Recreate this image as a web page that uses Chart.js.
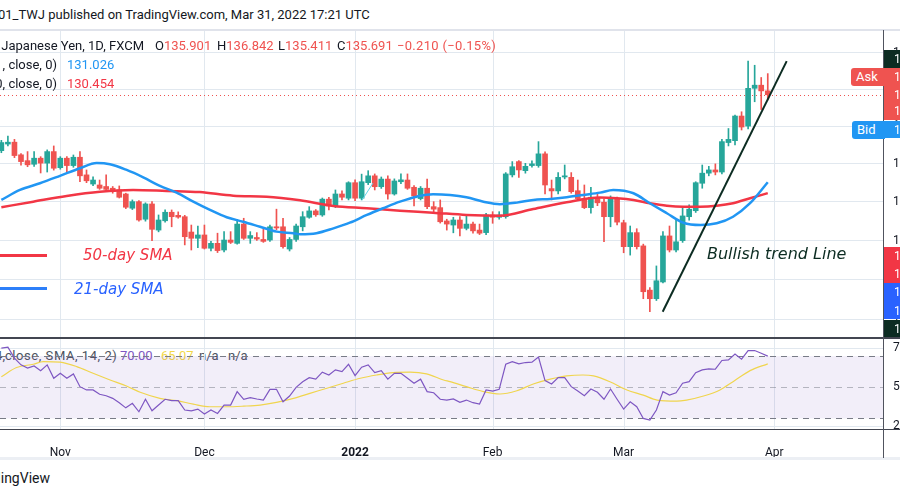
<!DOCTYPE html>
<html>
<head>
<meta charset="utf-8">
<script src="https://cdn.jsdelivr.net/npm/chart.js@4.4.1/dist/chart.umd.min.js"></script>
<style>
  html, body { margin:0; padding:0; background:#fff; }
  #stage { position:relative; width:900px; height:497px; overflow:hidden; background:#fff;
           font-family: Roboto, "Noto Sans", sans-serif; color:#131722; }
  .t { position:absolute; white-space:nowrap; font-size:13px; line-height:16px; z-index:4; }
  canvas { position:absolute; left:0; z-index:2; }
  #priceCanvas { top:30px; }
  #rsiCanvas { top:338px; }
  .ln { position:absolute; z-index:4; }
  .box { position:absolute; left:884px; width:60px; overflow:hidden; z-index:6; }
  .box span { position:absolute; left:10px; color:#fff; font-size:12px; line-height:16px; }
  .tag { position:absolute; color:#fff; font-size:13px; line-height:18px; height:18px;
         border-radius:3px 0 0 3px; z-index:6; padding-left:5px; box-sizing:border-box; }
  .note { position:absolute; white-space:nowrap; font-family:"DejaVu Sans", sans-serif;
          font-style:italic; font-size:15px; line-height:18px; z-index:4; }
</style>
</head>
<body>
<div id="stage">
  <div class="t" style="left:-2px;top:7px;">01_TWJ published on TradingView.com, Mar 31, 2022 17:21 UTC</div>
  <div class="ln" style="left:0;top:29px;width:900px;height:2px;background:#e0e3eb;"></div>

  <canvas id="priceCanvas" width="940" height="308"></canvas>
  <canvas id="rsiCanvas" width="940" height="120"></canvas>

  <!-- price legend -->
  <div class="t" style="right:756px;top:38px;">Euro / Japanese Yen, 1D, FXCM</div>
  <div class="t" style="left:155px;top:38px;">O<span style="color:#ef5350">135.901</span></div>
  <div class="t" style="left:217px;top:38px;">H<span style="color:#ef5350">136.842</span></div>
  <div class="t" style="left:278px;top:38px;">L<span style="color:#ef5350">135.411</span></div>
  <div class="t" style="left:337px;top:38px;">C<span style="color:#ef5350">135.691</span></div>
  <div class="t" style="left:397px;top:38px;color:#ef5350;letter-spacing:0.3px;">−0.210 (−0.15%)</div>
  <div class="t" style="right:843px;top:57px;">SMA (21, close, 0)</div>
  <div class="t" style="left:67px;top:57px;color:#2196f3;">131.026</div>
  <div class="t" style="right:843px;top:76px;">SMA (50, close, 0)</div>
  <div class="t" style="left:67px;top:76px;color:#f23645;">130.454</div>

  <!-- annotations -->
  <div class="ln" style="left:0;top:254px;width:47px;height:2.5px;background:#f23645;"></div>
  <div class="note" style="left:83px;top:246px;color:#f23645;">50-day SMA</div>
  <div class="ln" style="left:0;top:287px;width:47px;height:2.5px;background:#2d7ff9;"></div>
  <div class="note" style="left:74px;top:280px;color:#2962ff;">21-day SMA</div>
  <div class="note" style="left:707px;top:245px;color:#0c2c22;font-size:16px;">Bullish trend Line</div>

  <!-- RSI legend (under the pane canvas) -->
  <div class="t" style="right:895px;top:348px;z-index:1;color:#4c525e;">RSI (14, </div>
  <div class="t" style="left:5px;top:348px;z-index:1;color:#4c525e;letter-spacing:0.55px;">close, SMA, 14, 2)</div>
  <div class="t" style="left:120px;top:348px;z-index:1;color:#7e57c2;">70.00</div>
  <div class="t" style="left:161px;top:348px;z-index:1;color:#f2d84a;">65.07</div>
  <div class="t" style="left:199px;top:348px;z-index:1;color:#4c525e;">n/a</div>
  <div class="t" style="left:228px;top:348px;z-index:1;color:#4c525e;">n/a</div>

  <!-- pane borders -->
  <div class="ln" style="left:0;top:337px;width:900px;height:1.5px;background:#434651;z-index:5;"></div>
  <div class="ln" style="left:0;top:428.5px;width:900px;height:1.5px;background:#434651;z-index:5;"></div>
  <div class="ln" style="left:883px;top:30px;width:1px;height:428px;background:#50535e;z-index:5;"></div>
  <div class="ln" style="left:0;top:457px;width:900px;height:3px;background:#eceff4;"></div>
  <div class="t" style="right:850px;top:470px;font-size:14px;">TradingView</div>

  <!-- price scale labels -->
  <div class="box" style="top:49.5px;height:18.5px;background:#0c2c22;"><span style="top:1px">137.530</span></div>
  <div class="box" style="top:68px;height:52px;background:#ef5350;">
    <span style="top:0.5px">135.711</span><span style="top:18.5px">135.691</span><span style="top:35px">13:38:41</span></div>
  <div class="tag" style="left:851px;top:68px;width:34px;background:#ef5350;">Ask</div>
  <div class="box" style="top:120.5px;height:17.5px;background:#2196f3;"><span style="top:1px">135.671</span></div>
  <div class="tag" style="left:852px;top:120.5px;width:33px;background:#2196f3;">Bid</div>
  <div class="box" style="top:246.7px;height:36.6px;background:#f23645;">
    <span style="top:1px">130.454</span><span style="top:19.5px">129.600</span></div>
  <div class="box" style="top:283.3px;height:36.2px;background:#2962ff;">
    <span style="top:1px">128.900</span><span style="top:19.5px">127.950</span></div>
  <div class="box" style="top:319.5px;height:17.5px;background:#0c2c22;"><span style="top:1px">124.410</span></div>
</div>

<script>
// ---------- categories (trading sessions) ----------
const tradingDays = {
  '2021-10': [19,20,21,22,25,26,27,28,29],
  '2021-11': [1,2,3,4,5,8,9,10,11,12,15,16,17,18,19,22,23,24,25,26,29,30],
  '2021-12': [1,2,3,6,7,8,9,10,13,14,15,16,17,20,21,22,23,24,27,28,29,30,31],
  '2022-01': [3,4,5,6,7,10,11,12,13,14,17,18,19,20,21,24,25,26,27,28,31],
  '2022-02': [1,2,3,4,7,8,9,10,11,14,15,16,17,18,21,22,23,24,25,28],
  '2022-03': [1,2,3,4,7,8,9,10,11,14,15,16,17,18,21,22,23,24,25,28,29,30,31]
};
const dates = Object.entries(tradingDays).flatMap(([m, ds]) => ds.map(d => m + '-' + String(d).padStart(2, '0')));
const nextSession = '2022-04-01';

// ---------- tick labels ----------
const monthTickDates  = ['2021-11-01','2021-12-01','2022-01-03','2022-02-01','2022-03-01','2022-04-01'];
const monthTickLabels = ['Nov','Dec','2022','Feb','Mar','Apr'];
const priceTicks = [124,126,128,130,132,134,136,138];
const rsiTicks = [25,50,75];

// ---------- OHLC ----------
const opens = [132.69,133.04,133.14,132.47,132.16,131.97,132.29,132.03,132.64,131.79,
132.29,131.90,132.34,131.41,130.93,130.88,130.80,130.71,130.62,130.41,
129.67,130.01,129.10,129.89,128.54,129.02,129.46,129.30,129.23,128.44,
128.12,128.29,127.61,127.86,127.52,128.03,127.86,128.85,128.12,128.16,
128.06,128.03,128.71,128.71,127.57,128.06,128.71,129.20,129.53,129.32,
130.14,129.79,130.41,130.19,131.00,130.19,131.00,131.36,130.79,131.19,
130.41,131.05,131.14,130.76,130.17,130.71,129.75,129.70,129.01,128.80,
129.06,128.63,128.85,128.54,128.41,129.32,129.20,129.23,131.41,132.11,
131.63,131.90,131.90,132.52,130.69,130.57,131.30,131.28,130.58,130.17,
129.70,130.24,129.98,129.23,130.14,128.92,127.69,128.41,127.73,125.49,
125.06,125.90,128.24,127.52,128.00,129.23,129.54,130.97,131.50,131.67,
131.56,133.12,133.22,134.54,134.00,136.04,136.21,135.901];
const highs = [133.24,133.47,133.29,132.53,132.64,132.64,132.37,132.73,132.94,132.37,
132.37,132.46,132.64,131.67,131.31,131.14,131.41,130.80,130.83,130.45,
130.10,130.07,129.95,130.01,129.32,129.58,129.58,129.48,129.30,128.80,
128.75,128.80,127.96,128.38,128.46,128.46,129.10,129.15,128.46,128.41,
128.59,128.80,129.62,129.15,128.16,128.85,129.49,129.75,129.60,130.20,
130.24,130.62,130.58,131.05,131.15,131.45,131.63,131.46,131.30,131.36,
131.20,131.46,131.46,130.85,130.80,131.19,130.01,130.10,129.10,129.20,
129.23,129.27,128.95,128.85,129.40,129.49,129.49,131.53,132.11,132.17,
132.02,132.15,133.17,132.63,131.14,131.53,131.93,131.53,131.14,130.88,
130.76,130.45,130.15,130.31,130.25,129.05,128.75,128.61,127.82,125.62,
126.71,128.46,128.75,129.05,129.67,129.85,131.05,131.93,131.86,131.99,
133.29,133.87,134.59,134.77,137.53,137.30,136.63,136.842];
const lows = [132.58,132.94,132.32,131.92,131.84,131.86,131.51,131.56,131.66,131.71,
131.53,131.81,131.05,131.00,130.85,130.65,130.60,130.45,130.20,129.65,
129.60,129.00,129.00,128.00,128.45,128.95,128.71,129.15,127.78,127.52,
127.64,127.57,127.47,127.39,127.42,127.85,127.82,128.06,127.86,128.01,
127.91,127.96,128.55,127.62,127.47,127.96,128.50,129.15,129.25,129.25,
129.58,129.70,130.10,130.10,130.06,130.10,130.90,130.62,130.70,130.14,
130.35,130.95,130.65,129.79,130.10,129.65,129.49,128.90,128.54,128.40,
128.24,128.55,128.38,128.31,128.31,128.89,129.10,129.15,131.30,131.28,
131.50,131.81,131.81,130.41,130.10,130.41,131.20,130.45,130.10,129.65,
129.41,129.80,127.94,128.71,128.80,127.38,127.26,127.57,125.06,124.41,
124.97,125.85,127.42,127.42,127.91,129.05,129.45,130.71,131.36,131.41,
131.46,132.94,132.99,133.79,133.85,135.31,134.89,135.411];
const closes = [133.12,133.14,132.43,132.11,131.94,132.29,132.03,132.64,131.76,132.29,
131.90,132.34,131.36,131.10,131.14,130.71,130.65,130.53,130.24,129.72,
130.01,129.06,129.89,128.58,129.06,129.46,129.23,129.21,128.20,128.12,
128.29,127.61,127.86,127.49,128.03,127.91,128.85,128.12,128.26,128.08,
127.96,128.71,128.65,127.69,128.06,128.75,129.23,129.53,129.33,130.14,
129.79,130.41,130.24,131.00,130.19,131.05,131.36,130.79,131.19,130.41,
131.09,131.15,130.71,130.31,130.71,129.75,129.62,128.97,128.85,129.06,
128.63,128.85,128.50,128.38,129.32,129.20,129.32,131.46,131.84,131.67,
131.86,131.99,132.52,130.88,130.57,131.28,131.36,130.53,130.17,129.70,
130.24,129.95,129.23,130.14,128.95,127.69,128.41,127.69,125.41,125.06,
125.96,128.24,127.52,127.94,129.27,129.62,131.00,131.50,131.67,131.56,
133.17,133.29,134.54,133.95,136.04,136.21,135.90,135.691];

// ---------- moving averages (at session positions) ----------
const sma21At   = [0,2.84,5.89,8.95,12.0,14.55,16.58,19.13,21.66,24.21,26.76,29.3,31.85,34.4,36.9,39.5,42.0,44.6,45.6,48.1,50.7,53.2,55.8,58.3,60.85,63.4,65.9,68.5,71.0,73.6,76.1,78.7,81.2,83.8,86.3,88.8,91.4,93.4,96.5,99.0,101.6,104.1,106.7,109.2,111.7,114.3,117];
const sma21Vals = [130.10,130.62,130.97,131.36,131.76,132.03,131.97,131.67,131.28,130.83,130.48,130.01,129.58,129.20,128.97,128.71,128.46,128.38,128.33,128.38,128.63,128.92,129.32,129.67,130.01,130.27,130.40,130.36,130.24,130.01,129.88,129.96,130.10,130.15,130.24,130.36,130.48,130.62,130.45,129.93,129.41,128.92,128.80,128.89,129.23,129.93,131.026];
const sma50At   = [0,4.87,9.97,15.05,20.1,25.2,30.3,35.4,40.5,45.6,50.7,55.8,60.85,65.9,71.0,76.1,81.2,86.3,91.4,94.0,96.5,99.0,101.6,104.1,106.7,109.2,111.7,114.3,117];
const sma50Vals = [129.72,130.01,130.31,130.53,130.62,130.57,130.51,130.32,130.27,130.08,129.79,129.67,129.54,129.44,129.32,129.28,129.63,129.98,130.23,130.19,130.10,129.93,129.80,129.75,129.75,129.80,129.93,130.19,130.454];

// ---------- drawings ----------
const trendAt = [100.96, 119.89];
const trendVals = [124.41, 137.53];
const strokeAt = [55.06, 56.74];
const strokeVals = [130.09, 130.98];

// ---------- RSI ----------
const rsi = [75.2,75.8,68.7,64.4,62.3,63.7,60.7,64.4,55.8,59.0,
55.8,58.6,50.4,48.3,48.3,45.5,44.6,42.9,40.1,36.8,
39.7,34.3,42.3,34.9,38.6,42.3,41.4,41.4,35.4,34.9,
36.0,32.8,35.4,33.2,38.6,38.6,47.2,42.3,43.3,42.5,
41.8,48.7,48.7,40.7,44.4,50.0,53.6,56.2,55.2,59.7,
57.9,61.2,60.1,64.8,57.5,62.9,64.4,59.4,60.7,55.2,
59.0,59.0,55.8,52.6,55.2,47.2,46.5,42.3,41.8,42.5,
40.3,41.8,40.1,39.2,48.3,47.6,48.7,64.8,66.5,65.0,
65.9,66.1,69.4,54.3,52.1,56.2,56.2,50.4,47.6,44.6,
48.9,46.8,42.3,48.9,42.3,36.0,40.7,37.5,30.0,28.9,
35.4,47.2,45.0,46.5,52.6,53.6,59.4,61.2,61.8,61.6,
67.2,67.6,71.3,68.1,73.6,73.6,71.9,70.0];
const rsiMaAt   = [0,2.33,4.88,6.4,8.95,11.5,14.0,16.6,19.1,21.2,24.2,26.8,29.3,31.8,34.4,37.0,39.5,42.0,44.6,47.1,49.7,52.2,54.8,57.3,59.8,62.4,64.9,67.5,68.5,71.0,73.6,76.1,78.7,81.2,83.8,86.3,88.8,90.4,92.9,95.5,98.0,100.1,103.1,104.6,107.2,109.7,111.7,114.3,117];
const rsiMaVals = [56.8,62.7,64.8,66.5,66.1,63.3,59.0,54.7,50.8,46.8,42.9,41.4,39.2,37.5,37.5,37.9,38.6,40.3,42.9,46.1,49.4,52.6,55.8,57.9,59.4,59.7,58.6,54.7,53.6,50.4,47.2,45.7,47.8,52.1,55.2,57.3,57.9,57.3,53.6,48.3,45.0,41.8,41.1,41.8,44.4,48.3,53.6,60.7,65.07];
const rsiLevels = { upper: 70, middle: 50, lower: 30 };

// ---------- setup ----------
Chart.defaults.font.family = 'Roboto, "Noto Sans", sans-serif';
Chart.defaults.color = '#131722';
Chart.defaults.animation = false;

const upColor = '#26a69a', downColor = '#ef5350';
const gridColor = '#e1e8ef';
const sessions = opens.map((_, i) => i);
const candleColors = sessions.map(i => closes[i] >= opens[i] ? upColor : downColor);
const monthTickIdx = monthTickDates.map(d => d === nextSession ? dates.length : dates.indexOf(d));
const view = { xMin: -0.206, xMax: 134.745, pMin: 123.11, pMax: 139.25, rMin: 23.22, rMax: 81.65 };
const pts = (xs, ys) => xs.map((x, k) => ({ x, y: ys[k] }));

function xAxis(showLabels) {
  return {
    type: 'linear', min: view.xMin, max: view.xMax, offset: false,
    afterBuildTicks: s => { s.ticks = monthTickIdx.map(v => ({ value: v })); },
    ticks: {
      display: showLabels, autoSkip: false, maxRotation: 0, padding: 9, color: '#131722',
      callback: (v, i) => monthTickLabels[i],
      font: ctx => ({ size: 12, weight: monthTickLabels[ctx.index] === '2022' ? 'bold' : 'normal' })
    },
    grid: { display: false },
    border: { display: false },
    afterFit: s => { s.height = showLabels ? 29 : 0; s.paddingLeft = 0; s.paddingRight = 0; }
  };
}
function yFit(s) { s.width = 56; s.paddingTop = 0; s.paddingBottom = 0; }

// vertical month grid lines, placed through the x scale
const monthGrid = {
  id: 'monthGrid',
  beforeDatasetsDraw(chart) {
    const { ctx, chartArea, scales: { x } } = chart;
    ctx.save();
    ctx.strokeStyle = gridColor; ctx.lineWidth = 1;
    monthTickIdx.forEach(v => {
      const px = Math.round(x.getPixelForValue(v)) + 0.5;
      ctx.beginPath(); ctx.moveTo(px, chartArea.top); ctx.lineTo(px, chartArea.bottom); ctx.stroke();
    });
    ctx.restore();
  }
};

const lastPriceLine = {
  id: 'lastPriceLine',
  beforeDatasetsDraw(chart) {
    const { ctx, chartArea, scales: { y } } = chart;
    const last = closes.length - 1;
    const py = Math.round(y.getPixelForValue(closes[last])) + 0.5;
    ctx.save();
    ctx.strokeStyle = closes[last] >= opens[last] ? upColor : downColor;
    ctx.lineWidth = 1;
    ctx.setLineDash([1, 3]);
    ctx.beginPath(); ctx.moveTo(chartArea.left, py); ctx.lineTo(chartArea.right, py); ctx.stroke();
    ctx.restore();
  }
};

new Chart(document.getElementById('priceCanvas'), {
  type: 'bar',
  data: {
    datasets: [
      { type: 'line', label: 'Trend', data: pts(trendAt, trendVals), borderColor: '#0c2c22', borderWidth: 2, pointRadius: 0, order: 0 },
      { type: 'line', label: 'Stroke', data: pts(strokeAt, strokeVals), borderColor: '#63d3e8', borderWidth: 1, pointRadius: 0, order: 0 },
      { type: 'line', label: 'SMA 21', data: pts(sma21At, sma21Vals), borderColor: '#2196f3', borderWidth: 2.5, pointRadius: 0, cubicInterpolationMode: 'monotone', order: 1 },
      { type: 'line', label: 'SMA 50', data: pts(sma50At, sma50Vals), borderColor: '#f23645', borderWidth: 2.5, pointRadius: 0, cubicInterpolationMode: 'monotone', order: 1 },
      { label: 'Wicks', data: sessions.map(i => ({ x: i, y: [lows[i], highs[i]] })), backgroundColor: candleColors, barThickness: 1, grouped: false, order: 3 },
      { label: 'Bodies', data: sessions.map(i => ({ x: i, y: [opens[i], closes[i]] })), backgroundColor: candleColors, barThickness: 5, minBarLength: 1, grouped: false, order: 2 }
    ]
  },
  options: {
    responsive: false, animation: false, layout: { padding: 0 },
    plugins: { legend: { display: false }, tooltip: { enabled: false } },
    scales: {
      x: xAxis(false),
      y: {
        type: 'logarithmic', position: 'right', min: view.pMin, max: view.pMax,
        afterBuildTicks: s => { s.ticks = priceTicks.map(v => ({ value: v })); },
        ticks: { padding: 9, font: { size: 12 }, color: '#131722', callback: v => Number(v).toFixed(3) },
        grid: { color: gridColor, drawTicks: false },
        border: { display: false },
        afterFit: yFit
      }
    }
  },
  plugins: [monthGrid, lastPriceLine]
});

const rsiBands = {
  id: 'rsiBands',
  beforeDatasetsDraw(chart) {
    const { ctx, chartArea: { left, right }, scales: { y } } = chart;
    const yU = y.getPixelForValue(rsiLevels.upper), yM = y.getPixelForValue(rsiLevels.middle), yL = y.getPixelForValue(rsiLevels.lower);
    ctx.save();
    ctx.fillStyle = 'rgba(126,87,194,0.1)';
    ctx.fillRect(left, yU, right - left, yL - yU);
    ctx.lineWidth = 1;
    ctx.setLineDash([6, 5]);
    [[yU, '#787b86'], [yM, 'rgba(120,123,134,0.5)'], [yL, '#787b86']].forEach(([py, c]) => {
      const p = Math.round(py) + 0.5;
      ctx.strokeStyle = c; ctx.beginPath(); ctx.moveTo(left, p); ctx.lineTo(right, p); ctx.stroke();
    });
    ctx.restore();
  }
};

new Chart(document.getElementById('rsiCanvas'), {
  type: 'line',
  data: {
    datasets: [
      { label: 'RSI', data: sessions.map(i => ({ x: i, y: rsi[i] })), borderColor: '#7e57c2', borderWidth: 1.2, pointRadius: 0, tension: 0, order: 0 },
      { label: 'RSI MA', data: pts(rsiMaAt, rsiMaVals), borderColor: '#f0d54e', borderWidth: 1.2, pointRadius: 0, cubicInterpolationMode: 'monotone', order: 1 }
    ]
  },
  options: {
    responsive: false, animation: false, layout: { padding: 0 },
    plugins: { legend: { display: false }, tooltip: { enabled: false } },
    scales: {
      x: xAxis(true),
      y: {
        type: 'linear', position: 'right', min: view.rMin, max: view.rMax,
        afterBuildTicks: s => { s.ticks = rsiTicks.map(v => ({ value: v })); },
        ticks: { padding: 9, font: { size: 12 }, color: '#131722', callback: v => String(v) },
        grid: { color: ctx => (ctx.tick && ctx.tick.value === rsiLevels.middle) ? 'rgba(0,0,0,0)' : gridColor, drawTicks: false },
        border: { display: false },
        afterFit: yFit
      }
    }
  },
  plugins: [monthGrid, rsiBands]
});
</script>
</body>
</html>
